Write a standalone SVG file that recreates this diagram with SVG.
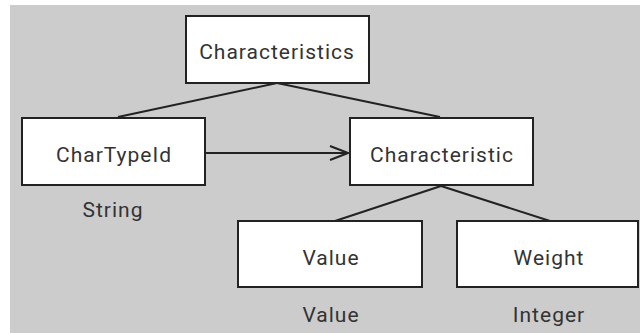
<svg xmlns="http://www.w3.org/2000/svg" width="640" height="333" viewBox="0 0 640 333">
  <style>
    .box { fill: #ffffff; stroke: #222222; stroke-width: 2; }
    .lbl { font-family: Roboto, "Liberation Sans", Arial, sans-serif; font-size: 21px; letter-spacing: 1px; fill: #333333; text-anchor: middle; }
    .edge { fill: none; stroke: #222222; stroke-width: 2; }
  </style>
  <defs>
    <marker id="open" viewBox="0 0 20 16" refX="19" refY="8" markerWidth="20" markerHeight="16" markerUnits="userSpaceOnUse" orient="auto">
      <path d="M1,1 L19,8 L1,15" fill="none" stroke="#222222" stroke-width="2"/>
    </marker>
  </defs>
  <rect x="10" y="5" width="630" height="328" fill="#cccccc"/>

  <g id="connectors">
    <line class="edge" x1="277" y1="83" x2="118" y2="117"/>
    <line class="edge" x1="277" y1="83" x2="440" y2="117"/>
    <line class="edge" x1="205" y1="153" x2="348" y2="153" marker-end="url(#open)"/>
    <line class="edge" x1="441" y1="186" x2="335" y2="221"/>
    <line class="edge" x1="441" y1="186" x2="550" y2="221"/>
  </g>

  <g id="characteristics">
    <rect class="box" x="186" y="16" width="183" height="67"/>
    <text class="lbl" x="277" y="59">Characteristics</text>
  </g>
  <g id="chartypeid">
    <rect class="box" x="22" y="118" width="183" height="67"/>
    <text class="lbl" x="114" y="162">CharTypeId</text>
    <text class="lbl" x="113" y="217">String</text>
  </g>
  <g id="characteristic">
    <rect class="box" x="350" y="118" width="183" height="67"/>
    <text class="lbl" x="442" y="162">Characteristic</text>
  </g>
  <g id="value">
    <rect class="box" x="238" y="221" width="184" height="66"/>
    <text class="lbl" x="331" y="265">Value</text>
    <text class="lbl" x="331" y="322">Value</text>
  </g>
  <g id="weight">
    <rect class="box" x="457" y="221" width="181" height="66"/>
    <text class="lbl" x="549" y="265">Weight</text>
    <text class="lbl" x="549" y="322">Integer</text>
  </g>
</svg>
